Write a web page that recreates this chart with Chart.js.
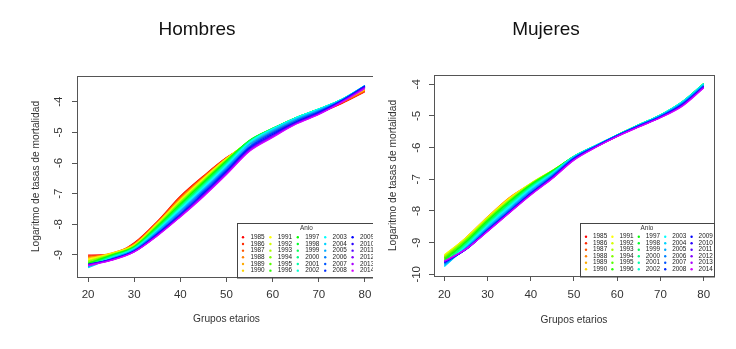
<!DOCTYPE html>
<html>
<head>
<meta charset="utf-8">
<title>Logaritmo de tasas de mortalidad</title>
<script src="https://cdn.jsdelivr.net/npm/chart.js@4.4.0/dist/chart.umd.min.js"></script>
<style>
  body { margin: 0; background: #fff; width: 736px; height: 349px; position: relative; overflow: hidden; }
  #wrapH { position: absolute; left: 0; top: 0; width: 373px; height: 349px; overflow: hidden; }
  #wrapM { position: absolute; left: 373px; top: 0; width: 363px; height: 349px; }
  canvas { display: block; }
</style>
</head>
<body>
<div id="wrapH"><canvas id="chartH" width="385" height="349" style="width:385px;height:349px"></canvas></div>
<div id="wrapM"><canvas id="chartM" width="363" height="349" style="width:363px;height:349px"></canvas></div>
<script>
// age groups on the x axis
const ages = [20, 25, 30, 35, 40, 45, 50, 55, 60, 65, 70, 75, 80];
const years = [1985, 1986, 1987, 1988, 1989, 1990, 1991, 1992, 1993, 1994,
               1995, 1996, 1997, 1998, 1999, 2000, 2001, 2002, 2003, 2004,
               2005, 2006, 2007, 2008, 2009, 2010, 2011, 2012, 2013, 2014];
const xTicks = [20, 30, 40, 50, 60, 70, 80];
const yTicksHombres = [-9, -8, -7, -6, -5, -4];
const yTicksMujeres = [-10, -9, -8, -7, -6, -5, -4];

// log mortality rates, one row per year (same order as years)
const hombres = [
  [-9.00, -8.98, -8.60, -7.90, -7.08, -6.42, -5.82, -5.38, -5.00, -4.66, -4.38, -4.06, -3.68],
  [-9.03, -8.96, -8.62, -7.92, -7.10, -6.44, -5.83, -5.37, -4.99, -4.65, -4.37, -4.05, -3.66],
  [-9.05, -8.97, -8.63, -7.93, -7.13, -6.45, -5.83, -5.35, -4.98, -4.63, -4.35, -4.03, -3.65],
  [-9.08, -8.95, -8.64, -7.94, -7.15, -6.47, -5.84, -5.34, -4.97, -4.62, -4.34, -4.02, -3.63],
  [-9.10, -8.94, -8.66, -7.96, -7.18, -6.49, -5.85, -5.32, -4.95, -4.61, -4.32, -4.00, -3.61],
  [-9.12, -8.96, -8.67, -7.97, -7.20, -6.50, -5.85, -5.31, -4.94, -4.59, -4.31, -3.99, -3.60],
  [-9.15, -8.95, -8.68, -7.98, -7.22, -6.52, -5.86, -5.30, -4.93, -4.58, -4.30, -3.98, -3.58],
  [-9.17, -8.97, -8.69, -8.00, -7.24, -6.54, -5.87, -5.29, -4.92, -4.57, -4.29, -3.97, -3.57],
  [-9.19, -8.98, -8.70, -8.01, -7.26, -6.56, -5.89, -5.29, -4.91, -4.56, -4.28, -3.96, -3.56],
  [-9.21, -8.99, -8.71, -8.03, -7.28, -6.58, -5.90, -5.28, -4.90, -4.55, -4.27, -3.95, -3.55],
  [-9.24, -9.00, -8.72, -8.05, -7.31, -6.60, -5.91, -5.27, -4.89, -4.54, -4.26, -3.95, -3.53],
  [-9.26, -9.01, -8.73, -8.06, -7.33, -6.62, -5.93, -5.27, -4.88, -4.53, -4.25, -3.94, -3.52],
  [-9.28, -9.02, -8.74, -8.08, -7.35, -6.64, -5.94, -5.26, -4.87, -4.52, -4.24, -3.93, -3.51],
  [-9.30, -9.03, -8.75, -8.10, -7.38, -6.67, -5.96, -5.27, -4.87, -4.52, -4.24, -3.93, -3.50],
  [-9.32, -9.05, -8.76, -8.12, -7.40, -6.69, -5.98, -5.28, -4.87, -4.52, -4.24, -3.93, -3.50],
  [-9.34, -9.06, -8.77, -8.14, -7.43, -6.72, -6.01, -5.30, -4.88, -4.52, -4.24, -3.92, -3.49],
  [-9.36, -9.07, -8.78, -8.16, -7.45, -6.75, -6.03, -5.31, -4.88, -4.53, -4.24, -3.92, -3.48],
  [-9.38, -9.09, -8.79, -8.18, -7.48, -6.77, -6.06, -5.32, -4.89, -4.53, -4.24, -3.92, -3.48],
  [-9.40, -9.10, -8.80, -8.20, -7.50, -6.80, -6.08, -5.33, -4.89, -4.53, -4.24, -3.92, -3.47],
  [-9.42, -9.11, -8.82, -8.22, -7.54, -6.84, -6.12, -5.37, -4.92, -4.56, -4.26, -3.93, -3.47],
  [-9.38, -9.12, -8.83, -8.24, -7.57, -6.87, -6.15, -5.40, -4.95, -4.58, -4.28, -3.94, -3.48],
  [-9.36, -9.13, -8.84, -8.27, -7.60, -6.90, -6.18, -5.44, -4.98, -4.61, -4.30, -3.95, -3.48],
  [-9.34, -9.14, -8.86, -8.29, -7.64, -6.93, -6.22, -5.47, -5.01, -4.63, -4.32, -3.96, -3.49],
  [-9.32, -9.14, -8.87, -8.31, -7.67, -6.97, -6.25, -5.49, -5.04, -4.66, -4.34, -3.96, -3.49],
  [-9.30, -9.15, -8.88, -8.33, -7.70, -7.00, -6.28, -5.52, -5.07, -4.68, -4.36, -3.97, -3.50],
  [-9.31, -9.16, -8.88, -8.34, -7.71, -7.02, -6.30, -5.54, -5.09, -4.69, -4.37, -3.98, -3.51],
  [-9.32, -9.16, -8.89, -8.35, -7.72, -7.04, -6.32, -5.56, -5.11, -4.70, -4.38, -3.99, -3.53],
  [-9.33, -9.17, -8.89, -8.36, -7.74, -7.06, -6.34, -5.58, -5.13, -4.72, -4.40, -4.00, -3.54],
  [-9.34, -9.17, -8.90, -8.37, -7.75, -7.08, -6.36, -5.60, -5.15, -4.73, -4.41, -4.01, -3.56],
  [-9.35, -9.18, -8.90, -8.38, -7.76, -7.10, -6.38, -5.62, -5.17, -4.74, -4.42, -4.02, -3.57]
];

const mujeres = [
  [-9.50, -8.88, -8.22, -7.62, -7.18, -6.76, -6.33, -5.98, -5.64, -5.34, -5.04, -4.66, -4.08],
  [-9.48, -8.87, -8.21, -7.61, -7.17, -6.75, -6.33, -5.98, -5.64, -5.33, -5.03, -4.65, -4.07],
  [-9.46, -8.86, -8.20, -7.60, -7.16, -6.74, -6.32, -5.97, -5.63, -5.33, -5.02, -4.64, -4.06],
  [-9.44, -8.85, -8.19, -7.58, -7.15, -6.74, -6.32, -5.97, -5.63, -5.32, -5.02, -4.63, -4.05],
  [-9.42, -8.84, -8.19, -7.59, -7.14, -6.73, -6.31, -5.97, -5.63, -5.32, -5.01, -4.62, -4.04],
  [-9.40, -8.84, -8.20, -7.60, -7.13, -6.72, -6.31, -5.96, -5.62, -5.31, -5.01, -4.61, -4.03],
  [-9.38, -8.85, -8.20, -7.62, -7.12, -6.72, -6.30, -5.96, -5.62, -5.31, -5.00, -4.60, -4.02],
  [-9.41, -8.87, -8.22, -7.64, -7.13, -6.72, -6.30, -5.96, -5.62, -5.30, -5.00, -4.59, -4.01],
  [-9.44, -8.89, -8.24, -7.65, -7.14, -6.72, -6.29, -5.95, -5.61, -5.30, -4.99, -4.58, -4.00],
  [-9.46, -8.91, -8.26, -7.67, -7.15, -6.73, -6.29, -5.95, -5.61, -5.29, -4.99, -4.58, -4.00],
  [-9.49, -8.93, -8.28, -7.69, -7.16, -6.73, -6.28, -5.95, -5.61, -5.29, -4.98, -4.57, -3.99],
  [-9.52, -8.96, -8.30, -7.70, -7.17, -6.74, -6.28, -5.94, -5.60, -5.28, -4.98, -4.57, -3.99],
  [-9.55, -8.98, -8.32, -7.72, -7.18, -6.74, -6.27, -5.94, -5.60, -5.28, -4.97, -4.56, -3.98],
  [-9.58, -9.00, -8.35, -7.75, -7.20, -6.75, -6.27, -5.94, -5.60, -5.28, -4.97, -4.56, -3.98],
  [-9.62, -9.03, -8.37, -7.78, -7.22, -6.77, -6.27, -5.93, -5.60, -5.28, -4.97, -4.56, -3.98],
  [-9.65, -9.05, -8.40, -7.80, -7.24, -6.78, -6.28, -5.93, -5.60, -5.28, -4.97, -4.56, -3.98],
  [-9.68, -9.07, -8.43, -7.83, -7.26, -6.79, -6.28, -5.93, -5.60, -5.28, -4.97, -4.56, -3.99],
  [-9.71, -9.10, -8.45, -7.85, -7.28, -6.81, -6.28, -5.93, -5.60, -5.28, -4.97, -4.56, -3.99],
  [-9.74, -9.12, -8.48, -7.88, -7.30, -6.82, -6.28, -5.93, -5.60, -5.28, -4.97, -4.56, -3.99],
  [-9.76, -9.14, -8.50, -7.91, -7.33, -6.84, -6.29, -5.94, -5.60, -5.29, -4.98, -4.58, -4.01],
  [-9.72, -9.16, -8.53, -7.94, -7.36, -6.86, -6.30, -5.94, -5.61, -5.29, -4.99, -4.59, -4.02],
  [-9.68, -9.18, -8.56, -7.97, -7.39, -6.88, -6.32, -5.95, -5.61, -5.30, -5.00, -4.61, -4.04],
  [-9.65, -9.20, -8.58, -8.00, -7.42, -6.90, -6.33, -5.96, -5.62, -5.31, -5.02, -4.63, -4.06],
  [-9.63, -9.21, -8.60, -8.02, -7.44, -6.92, -6.34, -5.96, -5.62, -5.31, -5.02, -4.64, -4.07],
  [-9.62, -9.22, -8.62, -8.04, -7.45, -6.93, -6.35, -5.97, -5.63, -5.32, -5.03, -4.65, -4.08],
  [-9.61, -9.22, -8.63, -8.05, -7.46, -6.94, -6.36, -5.97, -5.63, -5.33, -5.04, -4.66, -4.09],
  [-9.60, -9.21, -8.63, -8.05, -7.47, -6.95, -6.37, -5.98, -5.64, -5.33, -5.04, -4.67, -4.10],
  [-9.60, -9.21, -8.64, -8.06, -7.48, -6.96, -6.38, -5.99, -5.64, -5.34, -5.05, -4.68, -4.10],
  [-9.59, -9.20, -8.64, -8.06, -7.49, -6.97, -6.39, -5.99, -5.65, -5.34, -5.05, -4.69, -4.11],
  [-9.58, -9.20, -8.65, -8.07, -7.50, -6.98, -6.40, -6.00, -5.65, -5.35, -5.06, -4.70, -4.12]
];

const FONT = '"Liberation Sans", Arial, sans-serif';
const TXT = '#333';
const AXIS = '#555';

// rainbow palette, red -> violet
function yearColor(i) {
  return 'hsl(' + (i * 10) + ', 100%, 50%)';
}

// titles, R-style box, rotated y labels and the "Anio" legend
const decor = {
  id: 'decor',
  afterDraw(chart, args, o) {
    const ctx = chart.ctx;
    const a = chart.chartArea;
    const ys = chart.scales.y;
    ctx.save();

    ctx.fillStyle = '#111';
    ctx.font = '19px ' + FONT;
    ctx.textAlign = 'center';
    ctx.textBaseline = 'middle';
    ctx.fillText(o.title, o.titleX, o.titleY);

    ctx.strokeStyle = AXIS;
    ctx.lineWidth = 1;
    ctx.strokeRect(Math.round(a.left) + 0.5, Math.round(a.top) + 0.5,
                   Math.round(a.right - a.left), Math.round(a.bottom - a.top));

    ctx.fillStyle = TXT;
    ctx.font = '11.5px ' + FONT;
    ys.ticks.forEach(t => {
      const p = ys.getPixelForValue(t.value);
      ctx.save();
      ctx.translate(o.yLabelX, p);
      ctx.rotate(-Math.PI / 2);
      ctx.fillText(String(t.value), 0, 0);
      ctx.restore();
    });

    // legend box in bottom right corner
    const L = o.legend;
    const bx = a.right - L.w, by = a.bottom - L.h;
    ctx.fillStyle = '#fff';
    ctx.fillRect(bx, by, L.w, L.h);
    ctx.strokeStyle = '#444';
    ctx.strokeRect(Math.round(bx) + 0.5, Math.round(by) + 0.5, L.w, L.h);
    ctx.fillStyle = TXT;
    ctx.font = '6.4px ' + FONT;
    ctx.fillText('Anio', bx + L.w / 2, by + L.titleDy);
    ctx.textAlign = 'left';
    years.forEach((yr, i) => {
      const col = Math.floor(i / 6), row = i % 6;
      const dx = bx + L.dotDx + col * L.colW;
      const dy = by + L.rowDy + row * L.rowH;
      ctx.fillStyle = yearColor(i);
      ctx.beginPath();
      ctx.arc(dx, dy, 1.2, 0, Math.PI * 2);
      ctx.fill();
      ctx.fillStyle = '#222';
      ctx.fillText(String(yr), dx + L.textDx, dy);
    });
    ctx.restore();
  }
};

function makeChart(id, rows, yTicks, cfg) {
  const datasets = rows.map((row, i) => ({
    label: String(years[i]),
    data: ages.map((a, j) => ({ x: a, y: row[j] })),
    borderColor: yearColor(i),
    borderWidth: 1.1,
    pointRadius: 0,
    fill: false,
    cubicInterpolationMode: 'monotone',
    order: rows.length - 1 - i
  }));

  return new Chart(document.getElementById(id), {
    type: 'line',
    data: { datasets: datasets },
    options: {
      responsive: false,
      animation: false,
      events: [],
      layout: { padding: cfg.padding },
      plugins: {
        legend: { display: false },
        tooltip: { enabled: false },
        decor: cfg.decor
      },
      scales: {
        x: {
          type: 'linear',
          min: 17.6,
          max: 82.4,
          afterBuildTicks: s => { s.ticks = xTicks.map(v => ({ value: v })); },
          afterFit: s => { s.height = cfg.xAxisH; },
          grid: { drawOnChartArea: false, drawTicks: true, tickLength: 5, tickColor: AXIS },
          border: { display: false },
          ticks: { color: TXT, font: { family: FONT, size: 11.5 }, padding: cfg.xTickPad, maxRotation: 0, autoSkip: false },
          title: { display: true, text: 'Grupos etarios', color: TXT, font: { family: FONT, size: 10.2 }, padding: { top: 0, bottom: cfg.xTitlePad } }
        },
        y: {
          type: 'linear',
          min: cfg.yMin,
          max: cfg.yMax,
          afterBuildTicks: s => { s.ticks = yTicks.map(v => ({ value: v })); },
          afterFit: s => { s.width = cfg.yAxisW; },
          grid: { drawOnChartArea: false, drawTicks: true, tickLength: 5, tickColor: AXIS },
          border: { display: false },
          ticks: { callback: () => '' },
          title: { display: true, text: 'Logaritmo de tasas de mortalidad', color: TXT, font: { family: FONT, size: 10.2 }, padding: { top: cfg.yTitlePad, bottom: 0 } }
        }
      }
    },
    plugins: [decor]
  });
}

makeChart('chartH', hombres, yTicksHombres, {
  padding: { left: 0, top: 76, right: 9, bottom: 0 },
  xAxisH: 72, yAxisW: 77,
  yMin: -9.718, yMax: -3.162,
  xTickPad: 5.6, xTitlePad: 23.9, yTitlePad: 29.9,
  decor: {
    title: 'Hombres', titleX: 197, titleY: 30, yLabelX: 59.3,
    legend: { w: 139, h: 54.5, colW: 27.4, rowH: 6.67, titleDy: 5.8, rowDy: 14.8, dotDx: 6, textDx: 7.4 }
  }
});

makeChart('chartM', mujeres, yTicksMujeres, {
  padding: { left: 0, top: 75, right: 22, bottom: 0 },
  xAxisH: 73, yAxisW: 61,
  yMin: -10.054, yMax: -3.706,
  xTickPad: 6.8, xTitlePad: 22.9, yTitlePad: 14.2,
  decor: {
    title: 'Mujeres', titleX: 173, titleY: 30, yLabelX: 43.7,
    legend: { w: 134, h: 53.5, colW: 26.4, rowH: 6.5, titleDy: 5.8, rowDy: 14.2, dotDx: 6, textDx: 7 }
  }
});
</script>
</body>
</html>
